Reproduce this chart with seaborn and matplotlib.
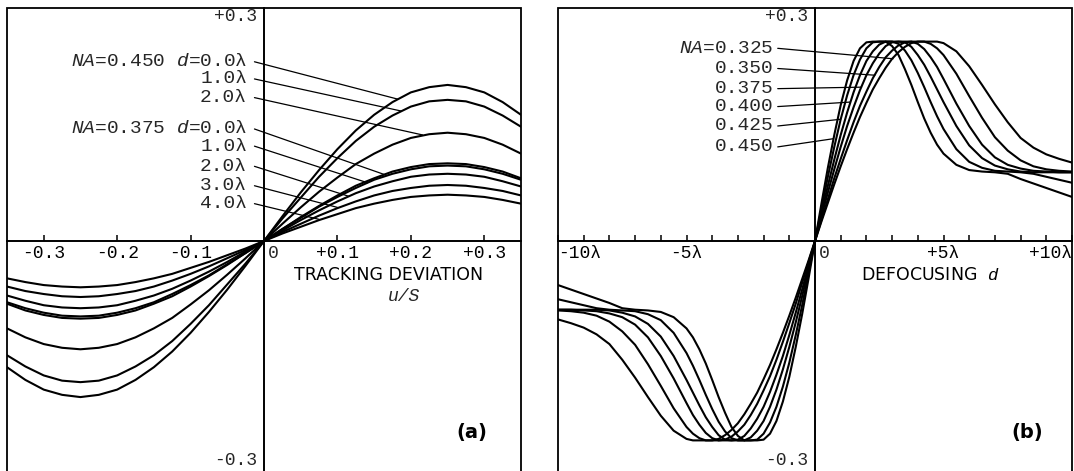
import matplotlib
matplotlib.use("Agg")
import matplotlib.pyplot as plt
import pandas as pd
import seaborn as sns
from matplotlib.patches import Rectangle

# ---------------- data: panel (a) tracking deviation ----------------
U = [-0.35, -0.325, -0.3, -0.275, -0.25, -0.225, -0.2, -0.175, -0.15, -0.125, -0.1,
     -0.075, -0.05, -0.025, 0.0, 0.025, 0.05, 0.075, 0.1, 0.125, 0.15, 0.175, 0.2,
     0.225, 0.25, 0.275, 0.3, 0.325, 0.35]

NA450_D0 = [-.169, -.186, -.199, -.206, -.209, -.206, -.199, -.186, -.169, -.148, -.123, -.095, -.065, -.033, 0,
            .033, .065, .095, .123, .148, .169, .186, .199, .206, .209, .206, .199, .186, .169]
NA450_D1 = [-.153, -.168, -.180, -.187, -.189, -.187, -.180, -.168, -.153, -.134, -.111, -.086, -.058, -.030, 0,
            .030, .058, .086, .111, .134, .153, .168, .180, .187, .189, .187, .180, .168, .153]
NA450_D2 = [-.117, -.129, -.138, -.143, -.145, -.143, -.138, -.129, -.117, -.103, -.085, -.066, -.045, -.023, 0,
            .023, .045, .066, .085, .103, .117, .129, .138, .143, .145, .143, .138, .129, .117]
NA375_D0 = [-.084, -.093, -.099, -.103, -.104, -.103, -.099, -.093, -.084, -.074, -.061, -.047, -.032, -.016, 0,
            .016, .032, .047, .061, .074, .084, .093, .099, .103, .104, .103, .099, .093, .084]
NA375_D1 = [-.082, -.090, -.096, -.100, -.101, -.100, -.096, -.090, -.082, -.071, -.059, -.046, -.031, -.016, 0,
            .016, .031, .046, .059, .071, .082, .090, .096, .100, .101, .100, .096, .090, .082]
NA375_D2 = [-.073, -.080, -.086, -.089, -.090, -.089, -.086, -.080, -.073, -.064, -.053, -.041, -.028, -.014, 0,
            .014, .028, .041, .053, .064, .073, .080, .086, .089, .090, .089, .086, .080, .073]
NA375_D3 = [-.061, -.067, -.071, -.074, -.075, -.074, -.071, -.067, -.061, -.053, -.044, -.034, -.023, -.012, 0,
            .012, .023, .034, .044, .053, .061, .067, .071, .074, .075, .074, .071, .067, .061]
NA375_D4 = [-.050, -.055, -.059, -.061, -.062, -.061, -.059, -.055, -.050, -.044, -.036, -.028, -.019, -.010, 0,
            .010, .019, .028, .036, .044, .050, .055, .059, .061, .062, .061, .059, .055, .050]

LEFT_LABELS = ["$NA$=0.450 $d$=0.0λ", "1.0λ", "2.0λ",
               "$NA$=0.375 $d$=0.0λ", "1.0λ", "2.0λ", "3.0λ", "4.0λ"]
LEFT_SERIES = [NA450_D0, NA450_D1, NA450_D2, NA375_D0, NA375_D1, NA375_D2, NA375_D3, NA375_D4]

# ---------------- data: panel (b) defocusing ----------------
DEFOCUS = [-10, -9.5, -9, -8.5, -8, -7.5, -7, -6.5, -6, -5.5, -5, -4.75, -4.5, -4.25, -4, -3.75,
           -3.5, -3.25, -3, -2.75, -2.5, -2.25, -2, -1.75, -1.5, -1.25, -1, -0.75, -0.5, -0.25,
           0, 0.25, 0.5, 0.75, 1, 1.25, 1.5, 1.75, 2, 2.25, 2.5, 2.75, 3, 3.25, 3.5, 3.75,
           4, 4.25, 4.5, 4.75, 5, 5.5, 6, 6.5, 7, 7.5, 8, 8.5, 9, 9.5, 10]

NA_325 = [-.105, -.110, -.116, -.125, -.138, -.159, -.183, -.209, -.234, -.254, -.265, -.267, -.267, -.267, -.267,
          -.265, -.260, -.253, -.244, -.232, -.218, -.203, -.185, -.166, -.145, -.123, -.100, -.076, -.051, -.026,
          0, .026, .051, .076, .100, .123, .145, .166, .185, .203, .218, .232, .244, .253, .260, .265,
          .267, .267, .267, .267, .265, .254, .234, .209, .183, .159, .138, .125, .116, .110, .105]
NA_350 = [-.093, -.094, -.096, -.100, -.108, -.121, -.139, -.165, -.194, -.224, -.249, -.258, -.264, -.267, -.267,
          -.267, -.266, -.262, -.255, -.246, -.233, -.218, -.200, -.181, -.159, -.135, -.110, -.084, -.056, -.028,
          0, .028, .056, .084, .110, .135, .159, .181, .200, .218, .233, .246, .255, .262, .266, .267,
          .267, .267, .264, .258, .249, .224, .194, .165, .139, .121, .108, .100, .096, .094, .093]
NA_375 = [-.092, -.092, -.093, -.094, -.097, -.102, -.112, -.129, -.154, -.184, -.217, -.233, -.246, -.257, -.264,
          -.267, -.267, -.267, -.266, -.261, -.251, -.238, -.222, -.202, -.179, -.154, -.126, -.096, -.065, -.033,
          0, .033, .065, .096, .126, .154, .179, .202, .222, .238, .251, .261, .266, .267, .267, .267,
          .264, .257, .246, .233, .217, .184, .154, .129, .112, .102, .097, .094, .093, .092, .092]
NA_400 = [-.092, -.092, -.092, -.092, -.093, -.096, -.101, -.111, -.128, -.154, -.186, -.203, -.220, -.236, -.249,
          -.260, -.266, -.267, -.267, -.267, -.263, -.254, -.241, -.222, -.199, -.172, -.142, -.109, -.074, -.037,
          0, .037, .074, .109, .142, .172, .199, .222, .241, .254, .263, .267, .267, .267, .266, .260,
          .249, .236, .220, .203, .186, .154, .128, .111, .101, .096, .093, .092, .092, .092, .092]
NA_425 = [-.078, -.082, -.086, -.090, -.092, -.093, -.094, -.098, -.106, -.123, -.150, -.167, -.186, -.206, -.225,
          -.242, -.255, -.264, -.267, -.267, -.267, -.266, -.258, -.243, -.222, -.195, -.163, -.126, -.086, -.043,
          0, .043, .086, .126, .163, .195, .222, .243, .258, .266, .267, .267, .267, .264, .255, .242,
          .225, .206, .186, .167, .150, .123, .106, .098, .094, .093, .092, .090, .086, .082, .078]
NA_450 = [-.059, -.065, -.071, -.077, -.083, -.090, -.092, -.093, -.095, -.102, -.117, -.129, -.145, -.164, -.186,
          -.209, -.230, -.249, -.261, -.267, -.267, -.267, -.266, -.258, -.241, -.215, -.182, -.142, -.098, -.050,
          0, .050, .098, .142, .182, .215, .241, .258, .266, .267, .267, .267, .261, .249, .230, .209,
          .186, .164, .145, .129, .117, .102, .095, .093, .092, .090, .083, .077, .071, .065, .059]

RIGHT_LABELS = ["$NA$=0.325", "0.350", "0.375", "0.400", "0.425", "0.450"]
RIGHT_SERIES = [NA_325, NA_350, NA_375, NA_400, NA_425, NA_450]

LEFT_XTICKS = [-0.3, -0.2, -0.1, 0.1, 0.2, 0.3]
LEFT_XTICKLABELS = ["-0.3", "-0.2", "-0.1", "+0.1", "+0.2", "+0.3"]
RIGHT_XTICKS = [-10, -5, 5, 10]
RIGHT_XTICKLABELS = ["-10λ", "-5λ", "+5λ", "+10λ"]
RIGHT_MINOR = [-9, -8, -7, -6, -4, -3, -2, -1, 1, 2, 3, 4, 6, 7, 8, 9]
YTICKS = [0.3, -0.3]
YTICKLABELS = ["+0.3", "-0.3"]

# ---------------- styling ----------------
sns.set_theme(style="white")
plt.rcParams["font.family"] = ["DejaVu Sans"]
plt.rcParams["mathtext.fontset"] = "custom"
plt.rcParams["mathtext.it"] = "Liberation Mono:italic"
plt.rcParams["mathtext.rm"] = "Liberation Mono"
plt.rcParams["axes.unicode_minus"] = False
MONO = ["Liberation Mono", "DejaVu Sans Mono"]
FS = 13      # tick numbers
FSL = 14     # curve labels

fig = plt.figure(figsize=(10.74, 4.71), dpi=100)
fig.patch.set_facecolor("white")
axL = fig.add_axes([7 / 1074, -3 / 471, 514 / 1074, 466 / 471])
axR = fig.add_axes([558 / 1074, -3 / 471, 514 / 1074, 466 / 471])

dfL = pd.concat([pd.DataFrame({"u": U, "signal": s, "curve": i})
                 for i, s in enumerate(LEFT_SERIES)], ignore_index=True)
dfR = pd.concat([pd.DataFrame({"d": DEFOCUS, "signal": s, "curve": i})
                 for i, s in enumerate(RIGHT_SERIES)], ignore_index=True)

sns.lineplot(data=dfL, x="u", y="signal", units="curve", estimator=None,
             color="black", linewidth=1.5, ax=axL, legend=False, sort=False)
sns.lineplot(data=dfR, x="d", y="signal", units="curve", estimator=None,
             color="black", linewidth=1.5, ax=axR, legend=False, sort=False)


def frame(ax, xlim):
    ax.set_xlim(*xlim)
    ax.set_ylim(-0.312, 0.312)
    ax.set_xlabel("")
    ax.set_ylabel("")
    ax.set_facecolor("white")
    ax.grid(False)
    for s in ["top", "right"]:
        ax.spines[s].set_visible(False)
    ax.spines["left"].set_position("zero")
    ax.spines["bottom"].set_position("zero")
    for s in ["left", "bottom"]:
        ax.spines[s].set_color("black")
        ax.spines[s].set_linewidth(1.4)
        ax.spines[s].set_zorder(5)
    ax.add_patch(Rectangle((0, 0), 1, 1, transform=ax.transAxes, fill=False,
                           ec="black", lw=1.3, clip_on=False, zorder=6))
    ax.set_yticks([])
    ax.tick_params(axis="x", which="both", bottom=True, direction="in",
                   length=4, width=1.1, color="black", pad=3, labelcolor="black")
    # y-axis end labels (+0.3 top, -0.3 bottom) next to the centre axis
    for yv, lab, dy in zip(YTICKS, YTICKLABELS, [0, 3]):
        ax.annotate(lab, xy=(0, yv), xytext=(-5, dy), textcoords="offset points",
                    ha="right", va="center", fontfamily=MONO, fontsize=FS)
    ax.annotate("0", xy=(0, 0), xytext=(3, -3), textcoords="offset points",
                ha="left", va="top", fontfamily=MONO, fontsize=FS)


frame(axL, (-0.35, 0.35))
frame(axR, (-10, 10))

axL.set_xticks(LEFT_XTICKS, LEFT_XTICKLABELS, fontfamily=MONO, fontsize=FS)
axR.set_xticks(RIGHT_XTICKS, RIGHT_XTICKLABELS, fontfamily=MONO, fontsize=FS)
axR.set_xticks(RIGHT_MINOR, minor=True)
labs = axR.get_xticklabels()
labs[0].set_ha("left")
labs[-1].set_ha("right")

# ---------------- annotations panel (a) ----------------
left_rows = [0.240, 0.217, 0.192, 0.150, 0.127, 0.100, 0.074, 0.050]
left_ends = [(0.182, 0.190), (0.187, 0.174), (0.216, 0.142), (0.164, 0.089),
             (0.141, 0.078), (0.115, 0.060), (0.100, 0.045), (0.075, 0.029)]
for lab, yv, end in zip(LEFT_LABELS, left_rows, left_ends):
    axL.text(-0.023, yv, lab, ha="right", va="center", fontfamily=MONO, fontsize=FSL)
    axL.annotate("", xy=end, xytext=(-0.013, yv),
                 arrowprops=dict(arrowstyle="-", color="black", lw=0.9,
                                 shrinkA=0, shrinkB=0))

axL.text(0.17, -0.045, "TRACKING DEVIATION", ha="center", va="center",
         fontsize=12.5, color="black")
axL.text(0.19, -0.074, "u/S", ha="center", va="center", fontfamily=MONO,
         fontstyle="italic", fontsize=13)
axL.text(0.905, 0.088, "(a)", transform=axL.transAxes, ha="center", va="center",
         fontsize=14, fontweight="bold", color="black")

# ---------------- annotations panel (b) ----------------
right_rows = [0.258, 0.231, 0.204, 0.180, 0.154, 0.126]
right_ends = [(3.04, 0.244), (2.33, 0.222), (1.81, 0.206), (1.36, 0.186),
              (1.0, 0.163), (0.72, 0.137)]
for lab, yv, end in zip(RIGHT_LABELS, right_rows, right_ends):
    axR.text(-1.6, yv, lab, ha="right", va="center", fontfamily=MONO, fontsize=FSL)
    axR.annotate("", xy=end, xytext=(-1.45, yv),
                 arrowprops=dict(arrowstyle="-", color="black", lw=0.9,
                                 shrinkA=0, shrinkB=0))

axR.text(4.5, -0.045, "DEFOCUSING  $d$", ha="center", va="center",
         fontsize=12.5, color="black")
axR.text(0.912, 0.088, "(b)", transform=axR.transAxes, ha="center", va="center",
         fontsize=14, fontweight="bold", color="black")

fig.savefig("out.png", dpi=100, facecolor="white")
